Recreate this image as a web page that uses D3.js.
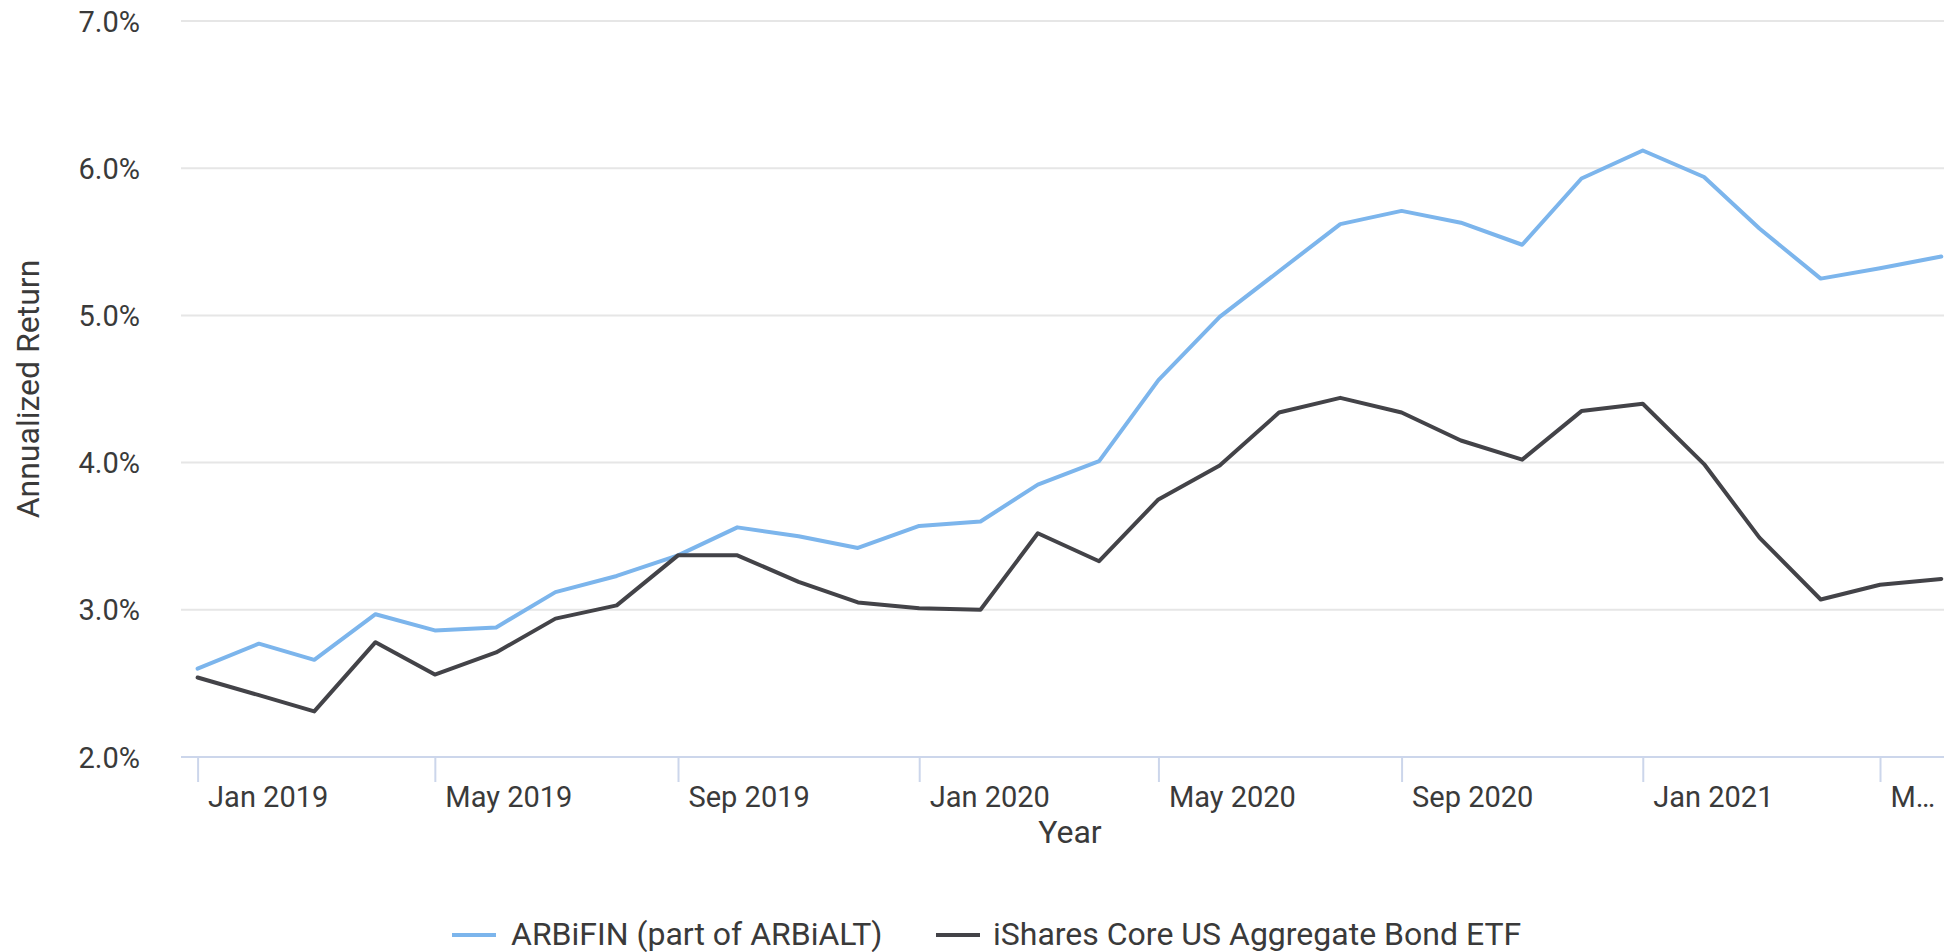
<!DOCTYPE html>
<html>
<head>
<meta charset="utf-8">
<script src="https://cdn.jsdelivr.net/npm/d3@7"></script>
<style>
  html, body { margin: 0; padding: 0; background: #ffffff; overflow: hidden; }
  svg { display: block; }
  text { font-family: Roboto, "Noto Sans", sans-serif; }
</style>
</head>
<body>
<svg id="chart" width="1944" height="952"></svg>
<script>
// ---- data ----
const months = [
  "2019-01","2019-02","2019-03","2019-04","2019-05","2019-06","2019-07","2019-08","2019-09","2019-10","2019-11","2019-12",
  "2020-01","2020-02","2020-03","2020-04","2020-05","2020-06","2020-07","2020-08","2020-09","2020-10","2020-11","2020-12",
  "2021-01","2021-02","2021-03","2021-04","2021-05","2021-06"
];
const arbifin = [
  2.60, 2.77, 2.66, 2.97, 2.86, 2.88, 3.12, 3.23, 3.37, 3.56, 3.50, 3.42,
  3.57, 3.60, 3.85, 4.01, 4.56, 4.99, 5.30, 5.62, 5.71, 5.63, 5.48, 5.93,
  6.12, 5.94, 5.59, 5.25, 5.32, 5.40
];
const ishares = [
  2.54, 2.42, 2.31, 2.78, 2.56, 2.71, 2.94, 3.03, 3.37, 3.37, 3.19, 3.05,
  3.01, 3.00, 3.52, 3.33, 3.75, 3.98, 4.34, 4.44, 4.34, 4.15, 4.02, 4.35,
  4.40, 3.99, 3.49, 3.07, 3.17, 3.21
];
const seriesNames = ["ARBiFIN (part of ARBiALT)", "iShares Core US Aggregate Bond ETF"];
const seriesColors = ["#7cb5ec", "#434348"];
const yTicks = [2, 3, 4, 5, 6, 7];
const xTickDates = ["2019-01","2019-05","2019-09","2020-01","2020-05","2020-09","2021-01","2021-05"];
const xTickLabels = ["Jan 2019","May 2019","Sep 2019","Jan 2020","May 2020","Sep 2020","Jan 2021","M\u2026"];
const yTitle = "Annualized Return";
const xTitle = "Year";

// ---- layout ----
const svg = d3.select("#chart");
const parse = d3.timeParse("%Y-%m");
const plotLeft = 181, plotRight = 1959, plotTop = 21, plotBottom = 757;

const x = d3.scaleTime()
  .domain([parse("2019-01"), parse("2021-06")])
  .range([197.6, 1941.3]);
const y = d3.scaleLinear().domain([2, 7]).range([plotBottom, plotTop]);

const textColor = "#3a3a3a";

// gridlines
svg.append("g").selectAll("line").data(yTicks).join("line")
  .attr("x1", plotLeft).attr("x2", plotRight)
  .attr("y1", d => y(d)).attr("y2", d => y(d))
  .attr("stroke", "#e6e6e6").attr("stroke-width", 2);

// y axis labels
const yAxis = d3.axisLeft(y).tickValues(yTicks).tickSize(0).tickPadding(0)
  .tickFormat(d => d3.format(".1f")(d) + "%");
const yg = svg.append("g").attr("transform", `translate(140,0)`).call(yAxis);
yg.select(".domain").remove();
yg.selectAll("text")
  .attr("fill", textColor).attr("font-size", 29)
  .attr("dy", null).attr("y", 10).attr("x", 0)
  .attr("font-family", "Roboto, sans-serif");

// x axis
const xAxis = d3.axisBottom(x)
  .tickValues(xTickDates.map(parse))
  .tickSize(25)
  .tickFormat((d, i) => xTickLabels[i]);
const xg = svg.append("g").attr("transform", `translate(0,${plotBottom})`).call(xAxis);
xg.select(".domain").remove();
xg.append("line").attr("x1", plotLeft).attr("x2", plotRight).attr("y1", 0).attr("y2", 0)
  .attr("stroke", "#ccd6eb").attr("stroke-width", 2);
xg.selectAll(".tick line").attr("stroke", "#ccd6eb").attr("stroke-width", 2);
xg.selectAll(".tick text")
  .attr("fill", textColor).attr("font-size", 29)
  .attr("text-anchor", "start").attr("x", 10).attr("dy", null).attr("y", 50)
  .attr("font-family", "Roboto, sans-serif");

// axis titles
svg.append("text")
  .attr("transform", "translate(39,389) rotate(-90)")
  .attr("text-anchor", "middle")
  .attr("fill", textColor).attr("font-size", 32)
  .text(yTitle);
svg.append("text")
  .attr("x", 1070).attr("y", 843)
  .attr("text-anchor", "middle")
  .attr("fill", textColor).attr("font-size", 32)
  .text(xTitle);

// lines
const line = d3.line().x(d => x(d.date)).y(d => y(d.value));
[arbifin, ishares].forEach((vals, si) => {
  const pts = months.map((m, i) => ({ date: parse(m), value: vals[i] }));
  svg.append("path").datum(pts)
    .attr("d", line)
    .attr("fill", "none")
    .attr("stroke", seriesColors[si])
    .attr("stroke-width", 4)
    .attr("stroke-linejoin", "round")
    .attr("stroke-linecap", "round");
});

// legend
const legendItems = [
  { sx: 452, tx: 511 },
  { sx: 936, tx: 993 }
];
legendItems.forEach((it, i) => {
  svg.append("line")
    .attr("x1", it.sx).attr("x2", it.sx + 44)
    .attr("y1", 935).attr("y2", 935)
    .attr("stroke", seriesColors[i]).attr("stroke-width", 4);
  svg.append("text")
    .attr("x", it.tx).attr("y", 945)
    .attr("fill", textColor).attr("font-size", 32)
    .text(seriesNames[i]);
});
</script>
</body>
</html>
